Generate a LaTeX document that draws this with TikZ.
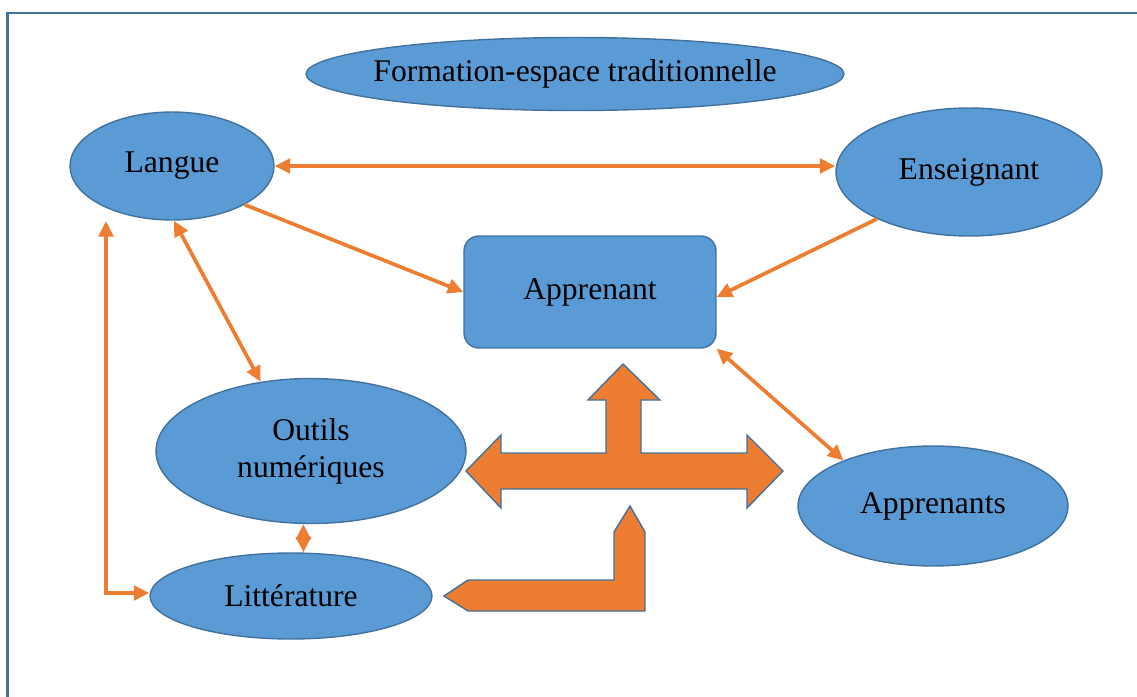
\documentclass[tikz,border=0pt]{standalone}
\usepackage{fontspec}
\setmainfont{Liberation Serif}
\usetikzlibrary{arrows.meta,shapes.geometric}

\definecolor{boxblue}{HTML}{5B9BD5}
\definecolor{edgeblue}{HTML}{41719C}
\definecolor{arrorange}{HTML}{ED7D31}

\begin{document}
\begin{tikzpicture}[x=0.02cm,y=-0.02cm,
  bubble/.style={ellipse,draw=edgeblue,fill=boxblue,line width=0.8pt,
    inner sep=0pt,align=center,font=\fontsize{18}{21}\selectfont},
  link/.style={draw=arrorange,line width=2.1pt,
    {Triangle[length=3.1mm,width=2.9mm]}-{Triangle[length=3.1mm,width=2.9mm]}},
  onelink/.style={draw=arrorange,line width=2.1pt,-{Triangle[length=3.1mm,width=2.9mm]}},
  block/.style={fill=arrorange,draw=edgeblue,line width=0.8pt,line join=miter}]
  \useasboundingbox (0,0) rectangle (1137,697);

  % frame
  \draw[edgeblue,line width=1.3pt] (7.5,705) -- (7.5,13) -- (1145,13);

  % nodes
  \node[bubble,inner xsep=-0.27cm,minimum width=10.76cm,minimum height=1.46cm] (formation) at (575,74) {Formation-espace traditionnelle};
  \node[bubble,minimum width=4.08cm,minimum height=2.16cm] (langue) at (172,166) {Langue};
  \node[bubble,minimum width=5.32cm,minimum height=2.56cm] (enseignant) at (969,172) {Enseignant};
  \node[rectangle,rounded corners=0.3cm,draw=edgeblue,fill=boxblue,line width=0.8pt,
    minimum width=5.04cm,minimum height=2.24cm,font=\fontsize{18}{21}\selectfont] (apprenant) at (590,292) {Apprenant};
  \node[bubble,minimum width=6.2cm,minimum height=2.9cm] (outils) at (311,451) {Outils\\numériques};
  \node[bubble,minimum width=5.4cm,minimum height=2.4cm] (apprenants) at (933,506) {Apprenants};
  \node[bubble,minimum width=5.64cm,minimum height=1.72cm] (litterature) at (291,596) {Littérature};

  % thin connectors
  \draw[link] (langue.east) -- (langue.east -| enseignant.west);
  \draw[onelink] (langue.-28) -- (apprenant.west);
  \draw[onelink] (enseignant.207) -- ([yshift=-0.1cm]apprenant.east);
  \draw[link] (langue.-88) -- (outils.126);
  \draw[link] (apprenant.south east) -- (apprenants.153);
  \coordinate (lgfoot) at (106,221);
  \draw[link] (lgfoot) |- ([yshift=0.06cm]litterature.west);
  \draw[link] (outils.-96) -- (litterature.74);

  % block arrows (left/right/up, then the bent one)
  \draw[block] (466,471) -- (501,435) -- (501,453) -- (606,453) -- (606,400)
    -- (588,400) -- (623,364) -- (660,400) -- (641,400) -- (641,453)
    -- (747,453) -- (747,435) -- (783,471) -- (747,508) -- (747,489)
    -- (501,489) -- (501,508) -- cycle;
  \draw[block] (630,506) -- (645,532) -- (645,611) -- (468,611) -- (444,596)
    -- (468,580) -- (614,580) -- (614,532) -- cycle;
\end{tikzpicture}
\end{document}
